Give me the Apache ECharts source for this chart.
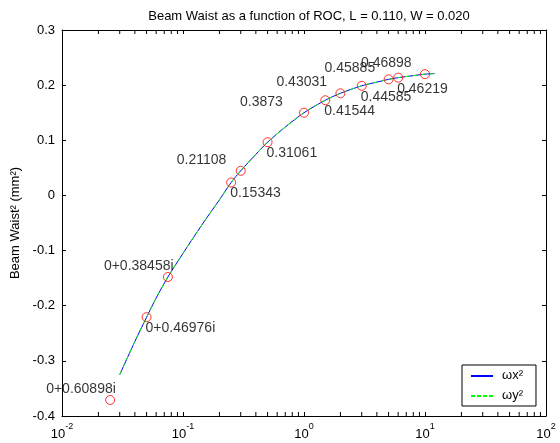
<!DOCTYPE html>
<html>
<head>
<meta charset="utf-8">
<style>html,body{margin:0;padding:0;background:#fff;}#c{width:560px;height:443px;}</style>
<script src="https://cdn.jsdelivr.net/npm/echarts@6/dist/echarts.min.js"></script>
</head>
<body>
<div id="c"></div>
<script>
// ROC values of the marked points and their beam waist squared
const pointX = [0.025, 0.05, 0.075, 0.25, 0.3, 0.5, 1, 1.5, 2, 3, 5, 6, 10];
const pointY = [-0.3709, -0.2207, -0.1479, 0.0235, 0.0446, 0.0965, 0.15, 0.1726, 0.1852, 0.1988, 0.2105, 0.2136, 0.2199];
const pointLabels = ['0+0.60898i', '0+0.46976i', '0+0.38458i', '0.15343', '0.21108', '0.31061', '0.3873',
  '0.41544', '0.43031', '0.44585', '0.45885', '0.46219', '0.46898'];
// curves
const curveX = [0.03, 0.04, 0.05, 0.06, 0.075, 0.1, 0.15, 0.2, 0.25, 0.3, 0.4, 0.5, 0.7, 1, 1.5, 2, 3, 4, 5, 6, 8, 10, 12];
const wxSq = [-0.325, -0.265, -0.221, -0.186, -0.148, -0.105, -0.047, -0.008, 0.0235, 0.0446, 0.0745, 0.0965, 0.124, 0.15, 0.1726, 0.1852, 0.1988, 0.2055, 0.2105, 0.2136, 0.2172, 0.2199, 0.221];
const wySq = [-0.325, -0.265, -0.221, -0.186, -0.148, -0.105, -0.047, -0.008, 0.0235, 0.0446, 0.0745, 0.0965, 0.124, 0.15, 0.1726, 0.1852, 0.1988, 0.2055, 0.2105, 0.2136, 0.2172, 0.2199, 0.221];
// axes
const xTickExps = {'0.01': '-2', '0.1': '-1', '1': '0', '10': '1', '100': '2'};
const xMinorTicks = [0.02, 0.03, 0.04, 0.05, 0.06, 0.07, 0.08, 0.09,
  0.2, 0.3, 0.4, 0.5, 0.6, 0.7, 0.8, 0.9,
  2, 3, 4, 5, 6, 7, 8, 9,
  20, 30, 40, 50, 60, 70, 80, 90];
const Y_MIN = -0.4, Y_MAX = 0.3, Y_STEP = 0.1;
const titleText = 'Beam Waist as a function of ROC, L = 0.110, W = 0.020';
const yName = 'Beam Waist\u00B2 (mm\u00B2)';
const seriesNames = ['\u03C9x\u00B2', '\u03C9y\u00B2'];

const FONT = 'Liberation Sans, Arial, sans-serif';
const BLUE = '#0000ff', GREEN = '#00ff00';
// legend line samples (bbox 22x13, thin bar in the middle)
const ICON_SOLID = 'path://M0,0M22,13M0,6H22V8H0Z';
const ICON_DASH = 'path://M0,0M22,13M0,6H4V8H0ZM6,6H10V8H6ZM12,6H16V8H12ZM18,6H22V8H18Z';
const chart = echarts.init(document.getElementById('c'), null, {renderer: 'canvas'});

const pts = pointX.map((x, i) => ({
  value: [x, pointY[i]],
  label: i % 2 === 0 ? {offset: [-64, -11]} : {offset: [-1, 11]}
}));

const axisCommon = {
  axisLine: {show: true, onZero: false, lineStyle: {color: '#000', width: 1}},
  axisTick: {show: true, inside: true, length: 4, lineStyle: {color: '#000'}},
  splitLine: {show: false},
  axisLabel: {color: '#000', fontFamily: FONT, fontSize: 13}
};

chart.setOption({
  animation: false,
  backgroundColor: '#fff',
  title: {
    text: titleText, left: 304, top: 5, textAlign: 'center',
    textStyle: {fontFamily: FONT, fontSize: 13, fontWeight: 'normal', color: '#000'}
  },
  grid: {left: 62, right: 14, top: 30, bottom: 27},
  legend: {
    data: [
      {name: seriesNames[0], icon: ICON_SOLID, itemStyle: {color: BLUE, borderWidth: 0, opacity: 1}},
      {name: seriesNames[1], icon: ICON_DASH, itemStyle: {color: GREEN, borderWidth: 0, opacity: 1}}
    ],
    orient: 'vertical',
    left: 462, top: 365,
    padding: [4, 13, 4, 9],
    itemWidth: 22, itemHeight: 13, itemGap: 7,
    backgroundColor: '#fff', borderColor: '#000', borderWidth: 1, borderRadius: 0,
    textStyle: {fontFamily: FONT, fontSize: 13, color: '#000', padding: [0, 0, 0, 4]}
  },
  xAxis: [
    Object.assign({}, axisCommon, {
      type: 'log', logBase: 10, min: 0.01, max: 100, position: 'bottom',
      axisLabel: Object.assign({}, axisCommon.axisLabel, {
        margin: 6,
        formatter: v => '{b|10}{s|' + (xTickExps[String(+v.toPrecision(3))] || '') + '}',
        rich: {
          b: {fontFamily: FONT, fontSize: 13, color: '#000', padding: [6, 0, 0, 0]},
          s: {fontFamily: FONT, fontSize: 9, color: '#000', verticalAlign: 'top', padding: [0, 0, 6, 0]}
        }
      })
    }),
    Object.assign({}, axisCommon, {
      type: 'log', logBase: 10, min: 0.01, max: 100, position: 'top',
      axisLabel: {show: false}
    })
  ],
  yAxis: [
    Object.assign({}, axisCommon, {
      type: 'value', min: Y_MIN, max: Y_MAX, interval: Y_STEP, position: 'left',
      name: yName, nameLocation: 'middle', nameGap: 36,
      nameTextStyle: {fontFamily: FONT, fontSize: 13, color: '#000'},
      axisLabel: Object.assign({}, axisCommon.axisLabel, {
        margin: 7,
        formatter: v => String(Math.round(v * 10) / 10)
      })
    }),
    Object.assign({}, axisCommon, {
      type: 'value', min: Y_MIN, max: Y_MAX, interval: Y_STEP, position: 'right',
      axisLabel: {show: false}
    })
  ],
  series: [
    {
      name: seriesNames[0], type: 'line', data: curveX.map((x, i) => [x, wxSq[i]]),
      symbol: 'none', smooth: 0.3, color: BLUE, lineStyle: {color: BLUE, width: 1}, itemStyle: {color: BLUE},
      z: 2
    },
    {
      name: seriesNames[1], type: 'line', data: curveX.map((x, i) => [x, wySq[i]]),
      symbol: 'none', smooth: 0.3, color: GREEN, lineStyle: {color: GREEN, width: 1, type: [4, 4]}, itemStyle: {color: GREEN},
      z: 3
    },
    {
      name: 'points', type: 'scatter', data: pts, symbol: 'circle', symbolSize: 9,
      itemStyle: {color: 'rgba(0,0,0,0)', borderColor: '#ff0000', borderWidth: 1},
      label: {show: true, position: 'inside', align: 'left', verticalAlign: 'middle',
        formatter: p => pointLabels[p.dataIndex],
        fontFamily: FONT, fontSize: 14, color: '#000'},
      z: 4
    },
    {
      name: 'minorTicks', type: 'custom', silent: true, clip: false,
      data: xMinorTicks.map(v => [v, 0]),
      renderItem: (params, api) => {
        const v = api.value(0);
        const b = api.coord([v, Y_MIN]);
        const t = api.coord([v, Y_MAX]);
        const st = {stroke: '#000', lineWidth: 1};
        return {type: 'group', children: [
          {type: 'line', shape: {x1: b[0], y1: b[1], x2: b[0], y2: b[1] - 4}, style: st},
          {type: 'line', shape: {x1: t[0], y1: t[1], x2: t[0], y2: t[1] + 4}, style: st}
        ]};
      },
      z: 5
    }
  ]
});
</script>
</body>
</html>
